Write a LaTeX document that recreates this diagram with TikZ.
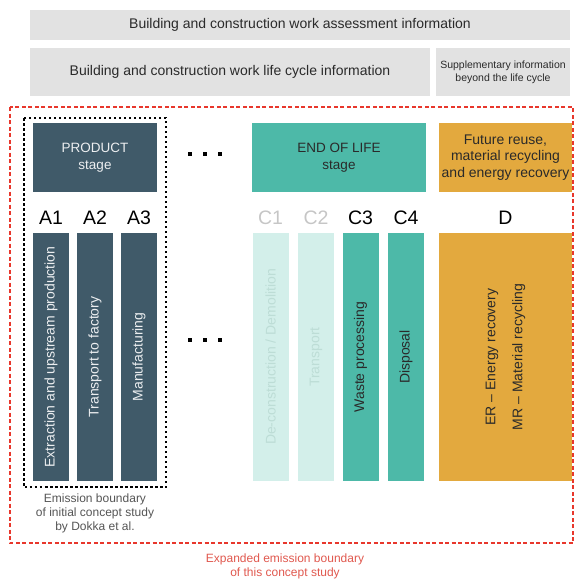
\documentclass[tikz,border=0pt]{standalone}
\usepackage{fontspec}
\setmainfont{Liberation Sans}
\definecolor{greybox}{HTML}{E2E2E2}
\definecolor{slate}{HTML}{405A69}
\definecolor{teal}{HTML}{4DB9A8}
\definecolor{lteal}{HTML}{D3EFEA}
\definecolor{ltealtext}{HTML}{BDDDD6}
\definecolor{ochre}{HTML}{E3A93E}
\definecolor{redline}{HTML}{E8372C}
\definecolor{redtext}{HTML}{E0584E}
\definecolor{lgrey}{HTML}{C6C6C6}
\definecolor{darktext}{HTML}{2A2A2A}
\begin{document}
\begin{tikzpicture}[x=1pt,y=-1pt,
  box/.style={rectangle,inner sep=0pt,outer sep=0pt,align=center},
  hdr/.style={box,fill=greybox,text=darktext,font=\fontsize{14}{17}\selectfont},
  stagebox/.style={box,font=\fontsize{13.5}{17.5}\selectfont},
  bar/.style={box,minimum width=36pt,minimum height=248pt},
  bartext/.style={rotate=90,inner sep=0pt,align=center,font=\fontsize{14}{18}\selectfont},
  code/.style={inner sep=0pt,font=\fontsize{19.5}{22}\selectfont},
  dotsq/.style={fill=black,minimum size=4pt,inner sep=0pt,outer sep=0pt,rectangle},
]
\useasboundingbox (0,0) rectangle (577,579);
% header bars
\node[hdr,minimum width=540pt,minimum height=30pt] (assess) at (300,25) {Building and construction work assessment information};
\node[hdr,minimum width=400pt,minimum height=48pt] (lifecycle) at (230,72) {Building and construction work life cycle information};
\node[hdr,minimum width=134pt,minimum height=48pt,font=\fontsize{10.5}{13}\selectfont] (supp) at (503,72) {Supplementary information\\beyond the life cycle};
% red expanded boundary
\draw[redline,line width=1.8pt,dash pattern=on 4pt off 2.5pt] (10,107) rectangle (573,543);
\node[text=redtext,align=center,font=\fontsize{12}{13.5}\selectfont] (expanded) at (285,566.5) {Expanded emission boundary\\of this concept study};
% black dotted boundary
\draw[black,line width=2pt,dash pattern=on 2.5pt off 2.5pt] (24,118) rectangle (166,487);
\node[text=darktext!80,align=center,font=\fontsize{12}{14}\selectfont] (initial) at (95,513) {Emission boundary\\of initial concept study\\by Dokka et al.};
% stage boxes
\node[stagebox,fill=slate,text=white!90!slate,minimum width=124pt,minimum height=69pt] (product) at (95,157.5) {PRODUCT\\stage};
\node[stagebox,fill=teal,text=darktext,minimum width=174pt,minimum height=69pt] (eol) at (339,157.5) {END OF LIFE\\stage};
\node[stagebox,fill=ochre,text=darktext,minimum width=133pt,minimum height=69pt,font=\fontsize{14}{16.5}\selectfont] (future) at (505.5,157.5) {Future reuse,\\material recycling\\and energy recovery};
% dots
\foreach \i/\xx in {1/190,2/205,3/220}{
  \node[dotsq] (dt\i) at (\xx,154) {};
  \node[dotsq] (db\i) at (\xx,340) {};
}
% module codes
\node[code,text=black] (A1) at (51,218) {A1};
\node[code,text=black] (A2) at (95,218) {A2};
\node[code,text=black] (A3) at (139,218) {A3};
\node[code,text=lgrey] (C1) at (270.5,218) {C1};
\node[code,text=lgrey] (C2) at (316,218) {C2};
\node[code,text=black] (C3) at (360.5,218) {C3};
\node[code,text=black] (C4) at (406,218) {C4};
\node[code,text=black] (D) at (505.5,218) {D};
% bars
\node[bar,fill=slate] (bA1) at (51,357) {};
\node[bar,fill=slate] (bA2) at (95,357) {};
\node[bar,fill=slate] (bA3) at (139,357) {};
\node[bar,fill=lteal] (bC1) at (270.5,357) {};
\node[bar,fill=lteal] (bC2) at (316,357) {};
\node[bar,fill=teal] (bC3) at (360.5,357) {};
\node[bar,fill=teal] (bC4) at (406,357) {};
\node[bar,fill=ochre,minimum width=133pt] (bD) at (505.5,357) {};
% bar texts
\node[bartext,text=white!90!slate] at (bA1) {Extraction and upstream production};
\node[bartext,text=white!90!slate] at (bA2) {Transport to factory};
\node[bartext,text=white!90!slate] at (bA3) {Manufacturing};
\node[bartext,text=ltealtext] at (bC1) {De-construction / Demolition};
\node[bartext,text=ltealtext] at (bC2) {Transport};
\node[bartext,text=darktext] at (bC3) {Waste processing};
\node[bartext,text=darktext] at (bC4) {Disposal};
\node[bartext,text=darktext,font=\fontsize{14}{27}\selectfont] at (bD) {ER -- Energy recovery\\MR -- Material recycling};
\end{tikzpicture}
\end{document}
